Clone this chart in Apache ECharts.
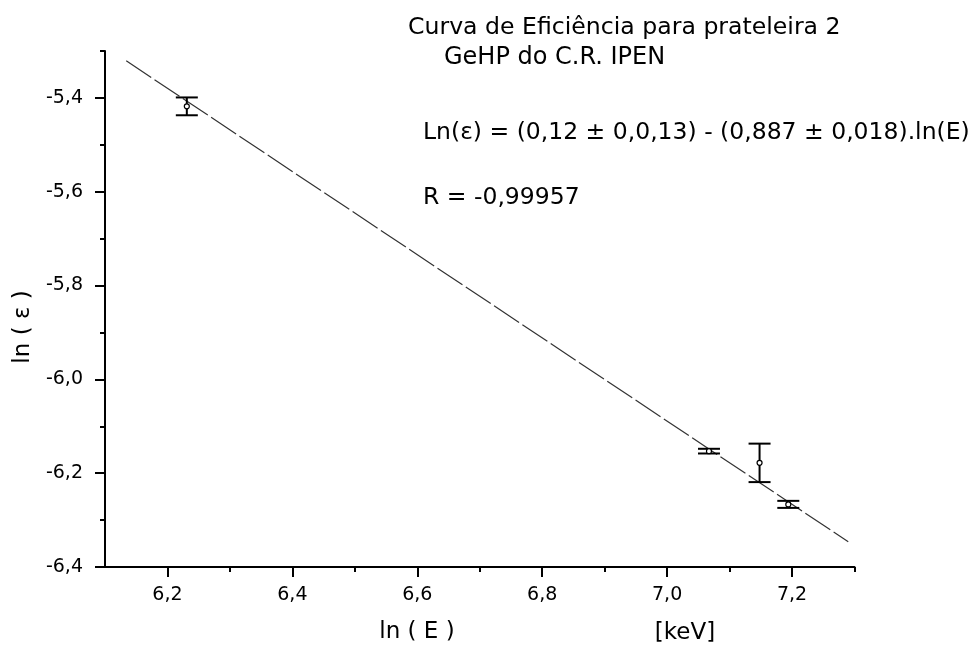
<!DOCTYPE html>
<html>
<head>
<meta charset="utf-8">
<script src="https://cdn.jsdelivr.net/npm/echarts@6/dist/echarts.min.js"></script>
<style>
  html, body { margin: 0; padding: 0; background: #fff; }
  #chart { width: 975px; height: 645px; }
</style>
</head>
<body>
<div id="chart"></div>
<script>
// Measured points: ln(E) with ln(efficiency) and its uncertainty
const lnE      = [6.231, 7.067, 7.148, 7.194];
const lnEff    = [-5.418, -6.153, -6.178, -6.2665];
const lnEffErr = [0.019, 0.005, 0.041, 0.0075];

// Fitted line Ln(eps) = a + b ln(E), drawn over this ln(E) span
const fitIntercept = 0.12;
const fitSlope = -0.887;
const fitSpan = [6.134, 7.29];

// Axis ticks and their labels
const xTicks = [6.2, 6.4, 6.6, 6.8, 7.0, 7.2];
const xTickLabels = ['6,2', '6,4', '6,6', '6,8', '7,0', '7,2'];
const xMinorTicks = [6.3, 6.5, 6.7, 6.9, 7.1, 7.3];
const yTicks = [-6.4, -6.2, -6.0, -5.8, -5.6, -5.4];
const yTickLabels = ['-6,4', '-6,2', '-6,0', '-5,8', '-5,6', '-5,4'];
const yMinorTicks = [-6.3, -6.1, -5.9, -5.7, -5.5, -5.3];

const titleLine1 = 'Curva de Eficiência para prateleira 2';
const titleLine2 = 'GeHP do C.R. IPEN';
const fitText = 'Ln(ε) = (0,12 ± 0,0,13) - (0,887 ± 0,018).ln(E)';
const rText = 'R = -0,99957';
const xName = 'ln ( E )';
const xUnit = '[keV]';
const yName = 'ln ( ε )';

const FONT = 'DejaVu Sans';
const INK = '#000';

function labelFor(ticks, labels) {
  return function (v) {
    for (let i = 0; i < ticks.length; i++) {
      if (Math.abs(ticks[i] - v) < 1e-6) return labels[i];
    }
    return '';
  };
}

const fitLine = fitSpan.map(x => [x, fitIntercept + fitSlope * x]);
const points = lnE.map((x, i) => [x, lnEff[i], lnEffErr[i]]);

const chart = echarts.init(document.getElementById('chart'), null, { renderer: 'canvas' });

const baseX = { type: 'value', min: 6.1, max: 7.3, position: 'bottom', splitLine: { show: false } };
const baseY = { type: 'value', min: -6.4, max: -5.3, position: 'left', splitLine: { show: false } };

chart.setOption({
  backgroundColor: '#fff',
  animation: false,
  grid: { left: 105, right: 120.5, top: 51, bottom: 78 },
  xAxis: [
    Object.assign({}, baseX, {
      axisLine: { onZero: false, lineStyle: { color: INK, width: 2 } },
      axisTick: { customValues: xTicks, length: 10, lineStyle: { color: INK, width: 2 } },
      axisLabel: {
        customValues: xTicks, formatter: labelFor(xTicks, xTickLabels),
        fontFamily: FONT, fontSize: 19, color: INK, margin: 19
      }
    }),
    Object.assign({}, baseX, {
      axisLine: { show: false, onZero: false },
      axisTick: { customValues: xMinorTicks, length: 5, lineStyle: { color: INK, width: 2 } },
      axisLabel: { show: false }
    })
  ],
  yAxis: [
    Object.assign({}, baseY, {
      axisLine: { onZero: false, lineStyle: { color: INK, width: 2 } },
      axisTick: { customValues: yTicks, length: 10, lineStyle: { color: INK, width: 2 } },
      axisLabel: {
        customValues: yTicks, formatter: labelFor(yTicks, yTickLabels),
        fontFamily: FONT, fontSize: 19, color: INK, margin: 22
      }
    }),
    Object.assign({}, baseY, {
      axisLine: { show: false, onZero: false },
      axisTick: { customValues: yMinorTicks, length: 5, lineStyle: { color: INK, width: 2 } },
      axisLabel: { show: false }
    })
  ],
  series: [
    {
      type: 'line',
      data: fitLine,
      showSymbol: false,
      lineStyle: { color: '#333', width: 1.2, type: [30, 4] },
      z: 2
    },
    {
      type: 'custom',
      data: points,
      encode: { x: 0, y: 1 },
      z: 3,
      renderItem: function (params, api) {
        const x = api.value(0), y = api.value(1), e = api.value(2);
        const top = api.coord([x, y + e]);
        const bot = api.coord([x, y - e]);
        const mid = api.coord([x, y]);
        const hw = 11;
        const st = { stroke: INK, lineWidth: 2 };
        return {
          type: 'group',
          children: [
            { type: 'line', shape: { x1: top[0], y1: top[1], x2: bot[0], y2: bot[1] }, style: st },
            { type: 'line', shape: { x1: top[0] - hw, y1: top[1], x2: top[0] + hw, y2: top[1] }, style: st },
            { type: 'line', shape: { x1: bot[0] - hw, y1: bot[1], x2: bot[0] + hw, y2: bot[1] }, style: st },
            { type: 'circle', shape: { cx: mid[0], cy: mid[1], r: 2.5 }, style: { fill: '#fff', stroke: INK, lineWidth: 1.2 } }
          ]
        };
      }
    }
  ],
  graphic: [
    { type: 'text', left: 408, top: 16, style: { text: titleLine1, font: '23.6px "DejaVu Sans"', fill: INK } },
    { type: 'text', left: 444, top: 46, style: { text: titleLine2, font: '24px "DejaVu Sans"', fill: INK } },
    { type: 'text', left: 423, top: 121, style: { text: fitText, font: '23.5px "DejaVu Sans"', fill: INK } },
    { type: 'text', left: 423, top: 186, style: { text: rText, font: '23.5px "DejaVu Sans"', fill: INK } },
    { type: 'text', x: 417, y: 632, style: { text: xName, font: '23px "DejaVu Sans"', fill: INK, align: 'center', verticalAlign: 'middle' } },
    { type: 'text', x: 685, y: 633, style: { text: xUnit, font: '23px "DejaVu Sans"', fill: INK, align: 'center', verticalAlign: 'middle' } },
    { type: 'text', x: 23, y: 327, rotation: Math.PI / 2, style: { text: yName, font: '23px "DejaVu Sans"', fill: INK, align: 'center', verticalAlign: 'middle' } }
  ]
});
</script>
</body>
</html>
